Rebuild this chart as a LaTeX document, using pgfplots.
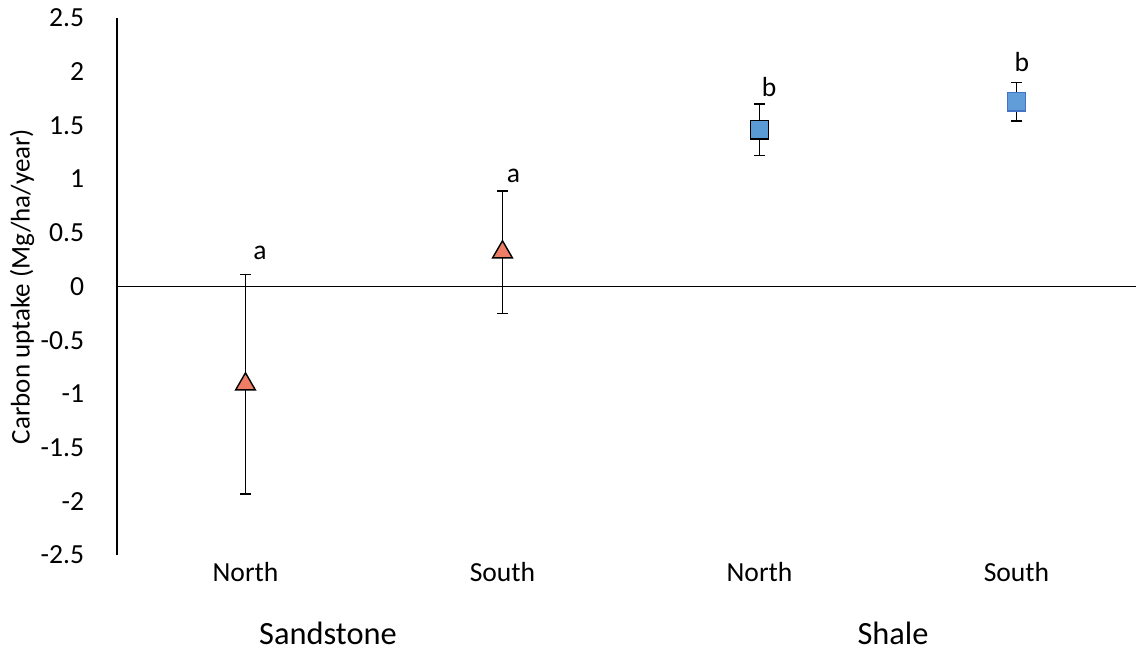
\documentclass[border=0pt]{standalone}
\usepackage{fontspec}
\setmainfont{Carlito}
\usepackage{pgfplots}
\pgfplotsset{compat=1.18}
\definecolor{tri}{RGB}{237,125,100}
\definecolor{sqA}{RGB}{91,155,213}
\definecolor{sqB}{RGB}{97,157,216}
\definecolor{sqBedge}{RGB}{68,114,196}
\begin{document}
\begin{tikzpicture}
\begin{axis}[
  scale only axis, width=509.5pt, height=268.5pt,
  xmin=-0.5, xmax=3.465, ymin=-2.5, ymax=2.5,
  axis x line*=bottom, axis y line*=left,
  x axis line style={draw=none},
  y axis line style={-, line width=0.8pt, black},
  major tick length=0pt,
  xtick={0,1,2,3}, xticklabels={North,South,North,South},
  ytick={-2.5,-2,-1.5,-1,-0.5,0,0.5,1,1.5,2,2.5},
  yticklabels={-2.5,-2,-1.5,-1,-0.5,0,0.5,1,1.5,2,2.5},
  tick label style={font=\fontsize{13.8}{16}\selectfont},
  yticklabel style={xshift=-12.9pt},
  clip=false,
]
\addplot[black, line width=0.85pt, forget plot] coordinates {(-0.5,0) (3.465,0)};
\addplot[only marks, mark=triangle*, mark size=5.7pt,
  mark options={fill=tri, draw=black, line width=0.7pt},
  error bars/.cd, y dir=both, y explicit,
  error bar style={line width=0.8pt, black},
  error mark options={rotate=90, mark size=2.8pt, line width=0.8pt, black}]
  coordinates {(0,-0.91) +- (0,1.02) (1,0.32) +- (0,0.57)};
\addplot[only marks, mark=square*, mark size=4.6pt,
  mark options={fill=sqA, draw=black, line width=0.7pt},
  error bars/.cd, y dir=both, y explicit,
  error bar style={line width=0.8pt, black},
  error mark options={rotate=90, mark size=2.8pt, line width=0.8pt, black}]
  coordinates {(2,1.46) +- (0,0.24)};
\addplot[only marks, mark=square*, mark size=4.6pt,
  mark options={fill=sqB, draw=sqBedge, line width=0.7pt},
  error bars/.cd, y dir=both, y explicit,
  error bar style={line width=0.8pt, black},
  error mark options={rotate=90, mark size=2.8pt, line width=0.8pt, black}]
  coordinates {(3,1.72) +- (0,0.18)};
\addplot[draw=none, mark=none, nodes near coords, point meta=explicit symbolic,
  every node near coord/.append style={anchor=base, inner sep=0pt, font=\fontsize{13.8}{16}\selectfont}]
  coordinates {(0.056,0.25) [a] (1.043,0.97) [a] (2.037,1.77) [b] (3.021,2.00) [b]};
\end{axis}
\node[rotate=90, font=\fontsize{13.5}{16}\selectfont] at (-47.5pt,134.25pt) {Carbon uptake (Mg/ha/year)};
\node[anchor=base, font=\fontsize{16.2}{19}\selectfont] at (105.5pt,-44.5pt) {Sandstone};
\node[anchor=base, font=\fontsize{16.2}{19}\selectfont] at (388pt,-44.5pt) {Shale};
\pgfresetboundingbox
\path (-58.5pt,-47.5pt) rectangle (509.5pt,277.5pt);
\end{tikzpicture}
\end{document}
